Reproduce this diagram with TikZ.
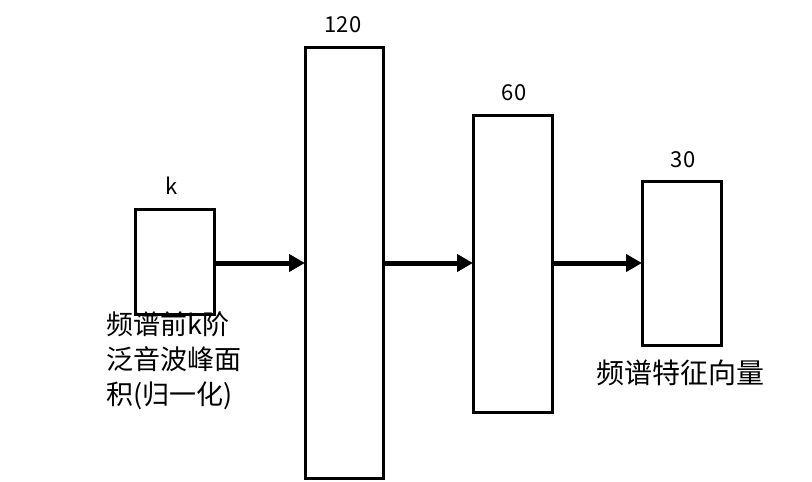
\documentclass[tikz,border=0pt]{standalone}
\usepackage{fontspec}
\setmainfont{Noto Sans CJK SC}
\usetikzlibrary{arrows.meta}
\begin{document}
\begin{tikzpicture}[x=1pt,y=-1pt,
  blk/.style={draw,line width=3pt},
  arr/.style={line width=5pt,-{Triangle[length=16pt,width=17pt]}},
  lbl/.style={font=\fontsize{22}{26}\selectfont}]
\useasboundingbox (0,0) rectangle (812,482);
\draw[blk] (135,209) rectangle (214,314);
\draw[blk] (305,47) rectangle (383,478);
\draw[blk] (473,115) rectangle (552,412);
\draw[blk] (642,181) rectangle (721,345);
\coordinate (k1) at (214,263); \coordinate (a0) at (305,263);
\coordinate (a1) at (383,263); \coordinate (b0) at (473,263);
\coordinate (b1) at (552,263); \coordinate (c0) at (642,263);
\draw[arr] (k1) -- (a0);
\draw[arr] (a1) -- (b0);
\draw[arr] (b1) -- (c0);
\node[lbl] (tk) at (172,186) {k};
\node[lbl] (t120) at (343,25) {120};
\node[lbl] (t60) at (514,93) {60};
\node[lbl] (t30) at (683,160) {30};
\node[anchor=north west,align=left,inner sep=0pt,font=\fontsize{27}{35}\selectfont] (in) at (106,311) {频谱前k阶\\泛音波峰面\\积(归一化)};
\node[font=\fontsize{28}{32}\selectfont] (out) at (680,373) {频谱特征向量};
\end{tikzpicture}
\end{document}
